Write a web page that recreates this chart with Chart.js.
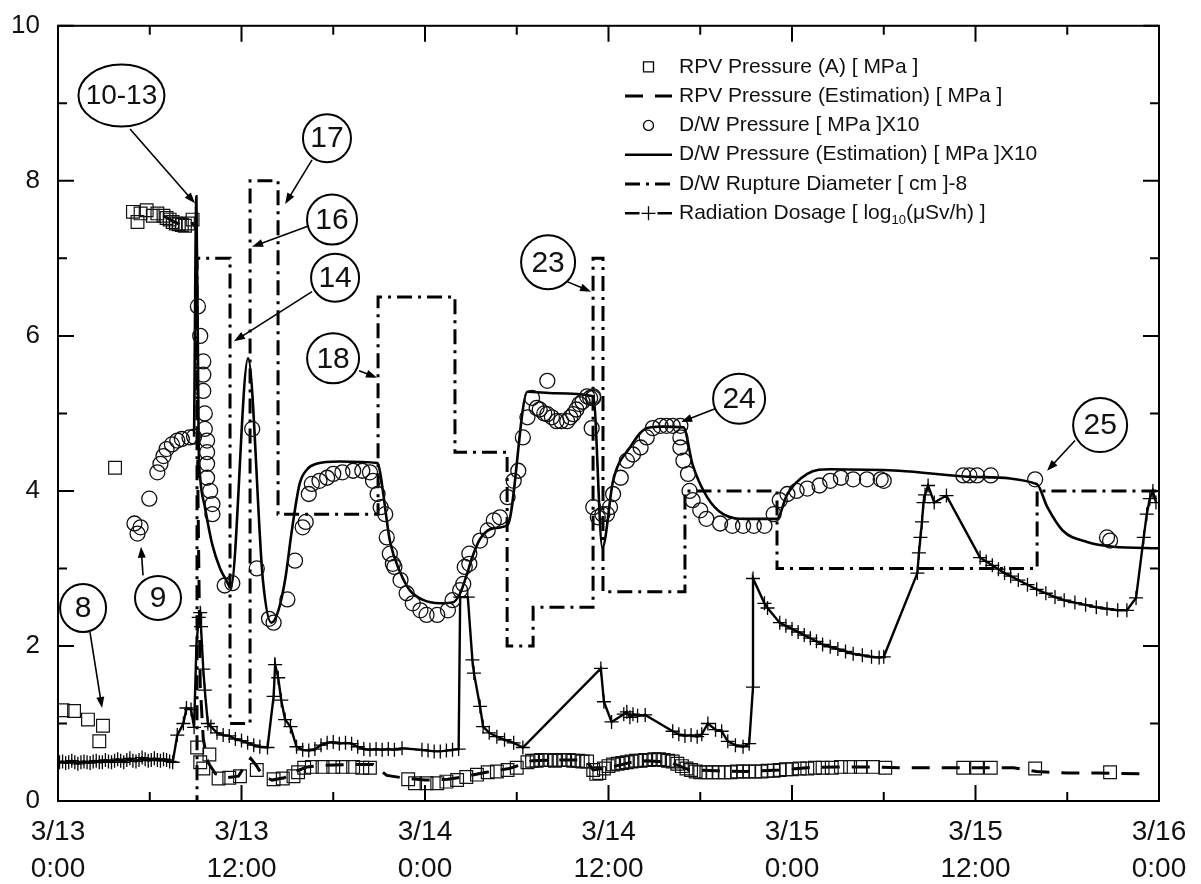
<!DOCTYPE html>
<html>
<head>
<meta charset="utf-8">
<title>RPV / D/W Pressure and Radiation</title>
<script src="https://cdn.jsdelivr.net/npm/chart.js@4.4.1/dist/chart.umd.min.js"></script>
<style>
  html, body { margin: 0; padding: 0; background: #fff; }
  #wrap { width: 1201px; height: 884px; }
</style>
</head>
<body>
<div id="wrap"><canvas id="chart" width="1201" height="884"></canvas></div>
<script>
// x is hours from 3/13 0:00
const xTickLabels = [['3/13', '0:00'], ['3/13', '12:00'], ['3/14', '0:00'], ['3/14', '12:00'],
                     ['3/15', '0:00'], ['3/15', '12:00'], ['3/16', '0:00']];

const seriesNames = [
  'RPV Pressure (A) [ MPa ]',
  'RPV Pressure (Estimation) [ MPa ]',
  'D/W Pressure [ MPa ]X10',
  'D/W Pressure (Estimation) [ MPa ]X10',
  'D/W Rupture Diameter [ cm ]-8',
  'Radiation Dosage [ log\u2081\u2080(\u03bcSv/h) ]'
];

// RPV pressure (A), squares
const rpvHours = [0.3, 1.05, 1.96, 2.94, 2.7, 3.73,
  4.9, 5.2, 5.4, 5.8, 6.2, 6.5, 6.9, 7.1, 7.3, 7.5, 7.7, 7.9, 8.1, 8.3, 8.5, 8.8,
  9.1, 9.3, 9.5, 9.9, 10.5, 11.2, 11.9, 13.0, 14.1, 14.7, 15.4, 15.7, 16.1, 16.6, 17.3, 18.0, 18.6, 19.3, 19.9, 20.4,
  22.9, 23.35, 24.1, 24.8, 25.4, 26.1, 26.7, 27.4, 28.1, 28.7, 29.4, 30.0,
  30.7, 31.0, 31.3, 31.6, 31.9, 32.2, 32.5, 32.8, 33.1, 33.4, 33.7, 34.0, 34.3, 34.6, 35.0, 35.2, 35.4,
  35.7, 36.0, 36.3, 36.6, 36.9, 37.2, 37.5, 37.8, 38.1, 38.4, 38.7, 39.0, 39.3, 39.6, 39.9, 40.2, 40.5, 40.8,
  41.1, 41.4, 41.7, 42.0, 42.4, 42.8, 43.2, 43.6, 44.0, 44.4, 44.8, 45.2, 45.6, 46.0, 46.4, 46.8, 47.2, 47.6,
  48.0, 48.5, 49.0, 49.5, 50.0, 50.6, 51.2, 51.8, 52.5, 53.3, 54.1,
  59.2, 60.1, 61.0, 63.9, 68.8];
const rpvValues = [1.17, 1.16, 1.05, 0.97, 0.77, 4.3,
  7.6, 7.47, 7.58, 7.62, 7.55, 7.58, 7.55, 7.52, 7.5, 7.47, 7.45, 7.44, 7.43, 7.42, 7.45, 7.5,
  0.69, 0.5, 0.42, 0.6, 0.29, 0.3, 0.32, 0.4, 0.28, 0.29, 0.32, 0.37, 0.43, 0.44, 0.44, 0.44, 0.44, 0.44, 0.43, 0.43,
  0.28, 0.23, 0.23, 0.23, 0.25, 0.27, 0.31, 0.34, 0.37, 0.38, 0.4, 0.43,
  0.5, 0.52, 0.52, 0.53, 0.53, 0.53, 0.52, 0.53, 0.53, 0.53, 0.52, 0.52, 0.51, 0.51, 0.4, 0.35, 0.36,
  0.42, 0.45, 0.47, 0.48, 0.49, 0.5, 0.51, 0.52, 0.52, 0.53, 0.53, 0.54, 0.54, 0.53, 0.52, 0.51, 0.48, 0.45,
  0.42, 0.4, 0.38, 0.37, 0.37, 0.37, 0.37, 0.37, 0.37, 0.38, 0.38, 0.38, 0.38, 0.38, 0.39, 0.39, 0.4, 0.41,
  0.41, 0.42, 0.42, 0.43, 0.43, 0.43, 0.44, 0.44, 0.44, 0.44, 0.43,
  0.43, 0.43, 0.43, 0.42, 0.37];

// RPV pressure estimation, dashed line
const rpvEstHours = [6.9, 7.5, 8.2, 8.8, 9.05, 9.15, 9.3, 9.5, 9.8, 10.3, 11.0, 11.8, 12.3, 12.6, 13.0, 13.4, 14.0,
  14.8, 15.5, 16.3, 17.5, 19.0, 20.6, 21.5, 22.5, 24.0, 25.5, 26.5, 28.0, 29.5, 30.5, 31.0, 33.0, 34.5, 35.0,
  36.0, 37.5, 38.5, 40.0, 41.3, 43.0, 45.0, 47.2, 49.0, 51.0, 53.0, 55.0, 60.0, 62.5, 64.0, 66.0, 68.0, 71.0];
const rpvEstValues = [7.55, 7.48, 7.42, 7.45, 7.4, 4.0, 1.5, 0.8, 0.5, 0.35, 0.3, 0.32, 0.48, 0.55, 0.45, 0.32, 0.27,
  0.3, 0.38, 0.44, 0.46, 0.47, 0.47, 0.33, 0.3, 0.27, 0.28, 0.31, 0.37, 0.42, 0.48, 0.52, 0.53, 0.53, 0.4,
  0.43, 0.5, 0.52, 0.5, 0.4, 0.39, 0.38, 0.4, 0.43, 0.44, 0.44, 0.43, 0.43, 0.43, 0.38, 0.36, 0.36, 0.35];

// D/W pressure x10, circles
const dwHours = [5.0, 5.4, 5.2, 5.97, 6.5, 6.7, 6.9, 7.1, 7.45, 7.8, 8.1, 8.6, 8.9,
  9.15, 9.3, 9.5, 9.5, 9.5, 9.6, 9.6, 9.75, 9.75, 9.75, 9.75, 9.95, 10.1, 10.1,
  10.9, 11.4, 12.7, 13.0, 13.8, 14.1, 15.0, 15.5, 16.0, 16.2, 16.4, 16.6, 17.1, 17.6, 18.0, 18.6, 19.3, 19.9,
  20.4, 20.6, 20.9, 21.1, 21.4, 21.5, 21.7, 21.9, 22.0, 22.4, 22.8, 23.2, 23.7, 24.1, 24.8, 25.5, 25.8,
  26.3, 26.5, 26.6, 26.9, 26.9, 27.6, 28.1, 28.5, 28.9, 29.4, 29.8, 30.1, 30.4, 30.7, 31.0, 31.3, 31.5,
  31.8, 32.0, 32.0, 32.3, 32.6, 32.9, 33.3, 33.5, 33.7, 33.9, 34.1, 34.3, 34.6, 34.8, 34.9, 35.0,
  35.0, 35.0, 35.3, 35.6, 35.9, 36.1, 36.3, 36.8, 37.2, 37.6, 38.1, 38.5, 38.9, 39.4, 39.8, 40.2, 40.7,
  40.7, 40.7, 40.9, 41.2, 41.3, 41.5, 42.0, 42.4, 43.3, 44.1, 44.8, 45.5, 46.2, 46.8, 47.2, 47.7, 48.3,
  49.0, 49.8, 50.5, 51.2, 52.0, 52.9, 53.8, 54.0, 59.2, 59.6, 60.1, 61.0, 63.9, 68.6, 68.8];
const dwValues = [3.58, 3.53, 3.45, 3.9, 4.24, 4.35, 4.45, 4.54, 4.6, 4.65, 4.67, 4.69, 4.7,
  6.38, 6.0, 5.67, 5.5, 5.29, 5.0, 4.8, 4.65, 4.5, 4.35, 4.17, 4.0, 3.83, 3.7,
  2.78, 2.81, 4.8, 3.0, 2.35, 2.3, 2.6, 3.1, 3.53, 3.6, 3.96, 4.09, 4.13, 4.17, 4.22, 4.24, 4.26, 4.26,
  4.24, 4.13, 3.96, 3.79, 3.7, 3.4, 3.19, 3.06, 3.02, 2.85, 2.68, 2.55, 2.46, 2.4, 2.4, 2.46, 2.59,
  2.72, 2.8, 3.02, 3.06, 3.19, 3.36, 3.49, 3.62, 3.66, 3.92, 4.13, 4.26, 4.69, 4.95, 5.2, 5.07, 5.05,
  5.0, 5.42, 4.99, 4.95, 4.9, 4.9, 4.9, 4.95, 4.99, 5.05, 5.12, 5.15, 5.22, 5.2, 4.81, 5.22,
  5.2, 3.79, 3.66, 3.7, 3.7, 3.79, 3.96, 4.17, 4.39, 4.47, 4.56, 4.69, 4.81, 4.84, 4.84, 4.84, 4.84,
  4.69, 4.56, 4.39, 4.22, 4.0, 3.88, 3.75, 3.64, 3.58, 3.55, 3.55, 3.55, 3.55, 3.7, 3.88, 3.96, 4.0,
  4.03, 4.07, 4.13, 4.17, 4.15, 4.15, 4.15, 4.13, 4.2, 4.2, 4.2, 4.2, 4.15, 3.4, 3.36];

// D/W pressure estimation x10, solid line
const dwEstHours = [8.9, 9.05, 9.2, 9.3, 9.6, 10.1, 10.6, 11.0, 11.3, 12.43, 13.4, 13.95, 14.4, 14.85, 15.3, 15.8,
  16.3, 16.9, 18.4, 20.9, 21.1, 21.3, 21.7, 22.4, 23.0, 23.8, 25.0, 25.8, 26.3, 26.7, 27.1, 27.6, 28.5, 29.4,
  30.7, 32.5, 35.0, 35.6, 36.3, 37.4, 38.5, 39.5, 40.9, 41.5, 42.45, 43.5, 45.0, 47.0, 47.7, 49.0, 50.5,
  55.0, 60.0, 64.0, 64.7, 65.7, 67.3, 69.0, 72.0];
const dwEstValues = [4.7, 7.8, 4.6, 4.17, 3.8, 3.3, 3.0, 2.85, 2.75, 5.71, 2.85, 2.3, 2.45, 2.85, 3.5, 4.09,
  4.28, 4.35, 4.38, 4.36, 4.2, 3.92, 3.36, 2.94, 2.72, 2.6, 2.55, 2.56, 2.68, 2.9, 3.15, 3.38, 3.52, 3.56,
  5.28, 5.26, 5.22, 3.27, 4.13, 4.56, 4.81, 4.83, 4.82, 4.34, 3.92, 3.7, 3.64, 3.64, 3.96, 4.22, 4.28,
  4.26, 4.18, 4.09, 3.79, 3.49, 3.34, 3.28, 3.26];

// D/W rupture diameter - 8, stepped: value holds from its hour until the next hour
const ruptureHours = [0, 9.09, 11.25, 12.56, 14.39, 20.93, 25.96, 29.37, 31.07, 34.99, 35.64, 41.0, 47.02, 64.03, 72];
const ruptureValues = [-8, 7.0, 1.0, 8.0, 3.7, 6.5, 4.5, 2.0, 2.5, 7.0, 2.7, 4.0, 3.0, 4.0, 4.0];

// Radiation dosage log10(uSv/h), crosses
const radHours = [0.1, 0.3, 0.5, 0.7, 0.9, 1.1, 1.3, 1.5, 1.7, 1.9, 2.1, 2.3, 2.5, 2.7, 2.9, 3.1, 3.3, 3.5, 3.7,
  3.9, 4.1, 4.3, 4.5, 4.7, 4.9, 5.1, 5.3, 5.5, 5.7, 5.9, 6.1, 6.3, 6.5, 6.7, 6.9, 7.1, 7.3, 7.5,
  7.8, 8.2, 8.4, 8.7, 8.9, 9.05, 9.2, 9.3, 9.35, 9.5, 9.6, 9.8, 10.0, 10.4, 10.8, 11.2, 11.6, 12.0, 12.4,
  12.8, 13.2, 13.7, 14.1, 14.2, 14.4, 14.6, 14.85, 15.2, 15.6, 16.0, 16.4, 16.8, 17.2, 17.6, 18.0, 18.4,
  18.8, 19.2, 19.6, 20.0, 20.4, 20.8, 21.2, 21.6, 22.0, 22.5, 23.8, 24.2, 24.6, 25.0, 25.4, 25.8, 26.2,
  26.3, 26.8, 27.1, 27.2, 27.6, 27.8, 28.2, 28.7, 29.2, 29.8, 30.4, 35.5, 35.7, 36.2, 37.0, 37.2, 37.4,
  37.6, 37.9, 38.4, 40.2, 40.6, 41.0, 41.4, 41.8, 42.1, 42.5, 43.0, 43.4, 43.8, 44.3, 44.8, 45.2, 45.45,
  45.45, 46.2, 46.4, 47.2, 47.6, 48.0, 48.4, 48.8, 49.2, 49.6, 50.0, 50.5, 51.0, 51.5, 52.0, 52.6, 53.2,
  53.7, 54.0, 56.2, 56.3, 56.4, 56.5, 56.6, 56.7, 56.9, 57.3, 58.1, 60.3, 60.7, 61.1, 61.5, 61.9, 62.3,
  62.8, 63.4, 64.0, 64.6, 65.2, 65.8, 66.5, 67.2, 67.9, 68.6, 69.3, 69.9, 70.5, 71.0, 71.2, 71.4, 71.6, 71.8];
const radValues = [0.5, 0.51, 0.49, 0.5, 0.52, 0.5, 0.48, 0.5, 0.51, 0.5, 0.49, 0.51, 0.52, 0.5, 0.5, 0.53, 0.51, 0.5, 0.52,
  0.54, 0.52, 0.5, 0.53, 0.55, 0.52, 0.51, 0.53, 0.56, 0.54, 0.52, 0.53, 0.55, 0.53, 0.52, 0.54, 0.53, 0.51, 0.5,
  0.85, 1.0, 1.2, 1.18, 0.95, 2.0, 2.37, 2.43, 2.25, 1.7, 1.43, 1.0, 0.96, 0.88, 0.85, 0.84, 0.8, 0.78, 0.75,
  0.72, 0.7, 0.69, 1.35, 1.76, 1.59, 1.3, 1.05, 0.96, 0.7, 0.66, 0.65, 0.67, 0.72, 0.75, 0.76, 0.74,
  0.75, 0.74, 0.7, 0.67, 0.66, 0.67, 0.66, 0.67, 0.66, 0.68, 0.66, 0.65, 0.64, 0.64, 0.65, 0.66, 0.67,
  2.63, 2.63, 1.82, 1.65, 1.22, 0.96, 0.88, 0.83, 0.79, 0.75, 0.69, 1.71, 1.28, 1.02, 1.12, 1.15, 1.08,
  1.12, 1.1, 1.11, 0.9, 0.86, 0.84, 0.85, 0.83, 0.86, 1.0, 0.92, 0.9, 0.77, 0.72, 0.7, 0.74, 1.47,
  2.87, 2.55, 2.49, 2.3, 2.26, 2.22, 2.18, 2.14, 2.1, 2.06, 2.02, 1.99, 1.96, 1.93, 1.9, 1.88, 1.86,
  1.85, 1.86, 2.94, 3.2, 3.4, 3.6, 3.85, 3.95, 4.07, 3.85, 3.94, 3.14, 3.09, 3.04, 2.99, 2.94, 2.9,
  2.85, 2.79, 2.73, 2.68, 2.63, 2.59, 2.56, 2.53, 2.5, 2.48, 2.46, 2.46, 2.62, 3.4, 3.7, 3.9, 4.0, 3.85];

// callouts, placed in data units (hours, value)
const callouts = [
  { text: '10-13', x: 4.15, y: 9.10, rx: 43, ry: 31, from: [4.71, 8.67], to: [8.96, 7.71] },
  { text: '17', x: 17.59, y: 8.55, rx: 24, ry: 24, from: [16.61, 8.27], to: [14.85, 7.70] },
  { text: '16', x: 17.92, y: 7.50, rx: 25, ry: 25, from: [16.29, 7.41], to: [12.69, 7.15] },
  { text: '14', x: 18.12, y: 6.75, rx: 24, ry: 24, from: [16.61, 6.57], to: [11.51, 5.93] },
  { text: '18', x: 17.99, y: 5.71, rx: 26, ry: 25, from: [19.69, 5.55], to: [20.86, 5.46] },
  { text: '23', x: 32.05, y: 6.95, rx: 27, ry: 27, from: [33.29, 6.70], to: [34.86, 6.57] },
  { text: '24', x: 44.54, y: 5.19, rx: 26, ry: 25, from: [42.97, 5.06], to: [40.75, 4.89] },
  { text: '25', x: 68.15, y: 4.85, rx: 27, ry: 27, from: [66.51, 4.65], to: [64.68, 4.26] },
  { text: '9', x: 6.54, y: 2.62, rx: 23, ry: 22, from: [5.56, 2.91], to: [5.43, 3.28] },
  { text: '8', x: 1.64, y: 2.49, rx: 23, ry: 24, from: [2.09, 2.18], to: [2.88, 1.20] }
];

const FONT = "'Liberation Sans', Arial, sans-serif";

function pts(xs, ys) {
  return xs.map((x, i) => ({ x: x, y: ys[i] }));
}

// box around the plot with inward ticks on all four sides
const frameTicks = {
  id: 'frameTicks',
  afterDatasetsDraw(chart) {
    const { ctx, chartArea: a, scales: { x, y } } = chart;
    ctx.save();
    ctx.strokeStyle = '#000';
    ctx.lineWidth = 2;
    ctx.strokeRect(a.left, a.top, a.right - a.left, a.bottom - a.top);
    ctx.beginPath();
    for (let h = x.min; h <= x.max; h += 6) {
      const px = x.getPixelForValue(h);
      const len = h % 12 === 0 ? 16 : 9;
      ctx.moveTo(px, a.bottom); ctx.lineTo(px, a.bottom - len);
      ctx.moveTo(px, a.top); ctx.lineTo(px, a.top + len);
    }
    for (let v = y.min; v <= y.max; v += 1) {
      const py = y.getPixelForValue(v);
      const len = v % 2 === 0 ? 16 : 9;
      ctx.moveTo(a.left, py); ctx.lineTo(a.left + len, py);
      ctx.moveTo(a.right, py); ctx.lineTo(a.right - len, py);
    }
    ctx.stroke();
    ctx.restore();
  }
};

function drawArrow(ctx, x1, y1, x2, y2) {
  const ang = Math.atan2(y2 - y1, x2 - x1);
  const hl = 11, hw = 4;
  ctx.beginPath();
  ctx.moveTo(x1, y1);
  ctx.lineTo(x2 - Math.cos(ang) * hl * 0.8, y2 - Math.sin(ang) * hl * 0.8);
  ctx.stroke();
  ctx.beginPath();
  ctx.moveTo(x2, y2);
  ctx.lineTo(x2 - Math.cos(ang) * hl + Math.sin(ang) * hw, y2 - Math.sin(ang) * hl - Math.cos(ang) * hw);
  ctx.lineTo(x2 - Math.cos(ang) * hl - Math.sin(ang) * hw, y2 - Math.sin(ang) * hl + Math.cos(ang) * hw);
  ctx.closePath();
  ctx.fill();
}

const calloutPlugin = {
  id: 'callouts',
  afterDatasetsDraw(chart) {
    const { ctx, scales: { x, y } } = chart;
    ctx.save();
    ctx.strokeStyle = '#000';
    ctx.fillStyle = '#000';
    ctx.lineWidth = 1.6;
    callouts.forEach(c => {
      drawArrow(ctx, x.getPixelForValue(c.from[0]), y.getPixelForValue(c.from[1]),
                x.getPixelForValue(c.to[0]), y.getPixelForValue(c.to[1]));
      const cx = x.getPixelForValue(c.x), cy = y.getPixelForValue(c.y);
      ctx.beginPath();
      ctx.ellipse(cx, cy, c.rx, c.ry, 0, 0, Math.PI * 2);
      ctx.fillStyle = '#fff';
      ctx.fill();
      ctx.lineWidth = 2;
      ctx.stroke();
      ctx.lineWidth = 1.6;
      ctx.fillStyle = '#111';
      ctx.font = (c.text.length > 3 ? 28 : 30) + 'px ' + FONT;
      ctx.textAlign = 'center';
      ctx.textBaseline = 'middle';
      ctx.fillText(c.text, cx, cy + 1);
      ctx.fillStyle = '#000';
    });
    ctx.restore();
  }
};

// legend in the upper right of the plot
const legendPlugin = {
  id: 'legendBox',
  afterDraw(chart) {
    const { ctx, chartArea: a } = chart;
    const textX = a.left + 621, symL = a.left + 567, symR = a.left + 614;
    const symC = (symL + symR) / 2;
    ctx.save();
    chart.data.datasets.forEach((ds, i) => {
      const cy = a.top + 41 + i * 29.3;
      ctx.strokeStyle = '#000';
      ctx.fillStyle = '#000';
      if (ds.showLine) {
        ctx.lineWidth = ds.borderWidth;
        ctx.setLineDash(ds.borderDash || []);
        ctx.beginPath();
        if (ds.pointStyle === 'cross') {
          ctx.moveTo(symL, cy); ctx.lineTo(symC - 9, cy);
          ctx.moveTo(symC + 9, cy); ctx.lineTo(symR, cy);
        } else {
          ctx.moveTo(symL, cy); ctx.lineTo(symR, cy);
        }
        ctx.stroke();
        ctx.setLineDash([]);
      }
      if (ds.pointRadius > 0) {
        ctx.lineWidth = 1.3;
        ctx.beginPath();
        if (ds.pointStyle === 'rect') {
          ctx.rect(symC - 5, cy - 5, 10, 10);
        } else if (ds.pointStyle === 'circle') {
          ctx.arc(symC, cy, 5, 0, Math.PI * 2);
        } else if (ds.pointStyle === 'cross') {
          ctx.moveTo(symC - 7, cy); ctx.lineTo(symC + 7, cy);
          ctx.moveTo(symC, cy - 7); ctx.lineTo(symC, cy + 7);
        }
        ctx.stroke();
      }
      // label, with subscript for log10
      ctx.fillStyle = '#111';
      ctx.textBaseline = 'middle';
      ctx.textAlign = 'left';
      const parts = ds.label.split('\u2081\u2080');
      ctx.font = '21px ' + FONT;
      ctx.fillText(parts[0], textX, cy);
      if (parts.length > 1) {
        let px = textX + ctx.measureText(parts[0]).width;
        ctx.font = '13px ' + FONT;
        ctx.fillText('10', px, cy + 7);
        px += ctx.measureText('10').width;
        ctx.font = '21px ' + FONT;
        ctx.fillText(parts[1], px, cy);
      }
    });
    ctx.restore();
  }
};

const ctx = document.getElementById('chart').getContext('2d');
const chart = new Chart(ctx, {
  type: 'scatter',
  data: {
    datasets: [
      {
        label: seriesNames[0],
        data: pts(rpvHours, rpvValues),
        showLine: false,
        pointStyle: 'rect',
        pointRadius: 9,
        pointBorderWidth: 1.2,
        borderColor: '#111',
        backgroundColor: 'rgba(0,0,0,0)'
      },
      {
        label: seriesNames[1],
        data: pts(rpvEstHours, rpvEstValues),
        showLine: true,
        borderColor: '#000',
        borderWidth: 3,
        borderDash: [18, 12],
        pointRadius: 0
      },
      {
        label: seriesNames[2],
        data: pts(dwHours, dwValues),
        showLine: false,
        pointStyle: 'circle',
        pointRadius: 7.5,
        pointBorderWidth: 1.3,
        borderColor: '#111',
        backgroundColor: 'rgba(0,0,0,0)'
      },
      {
        label: seriesNames[3],
        data: pts(dwEstHours, dwEstValues),
        showLine: true,
        borderColor: '#000',
        borderWidth: 2.6,
        cubicInterpolationMode: 'monotone',
        pointRadius: 0
      },
      {
        label: seriesNames[4],
        data: pts(ruptureHours, ruptureValues),
        showLine: true,
        stepped: true,
        borderColor: '#000',
        borderWidth: 3,
        borderDash: [15, 6, 3, 6],
        pointRadius: 0
      },
      {
        label: seriesNames[5],
        data: pts(radHours, radValues),
        showLine: true,
        borderColor: '#000',
        borderWidth: 2.4,
        pointStyle: 'cross',
        pointRadius: 7,
        pointBorderWidth: 1.3,
        backgroundColor: 'rgba(0,0,0,0)'
      }
    ]
  },
  options: {
    responsive: false,
    animation: false,
    layout: { padding: { top: 24, right: 42, bottom: 0, left: 0 } },
    plugins: {
      legend: { display: false },
      tooltip: { enabled: false }
    },
    scales: {
      x: {
        type: 'linear',
        min: 0,
        max: 72,
        grid: { display: false, drawTicks: false },
        border: { display: false },
        ticks: {
          stepSize: 12,
          autoSkip: false,
          maxRotation: 0,
          padding: 13,
          color: '#111',
          font: { family: FONT, size: 28, lineHeight: 1.32 },
          callback: v => xTickLabels[Math.round(v / 12)]
        },
        afterFit: s => { s.height = 83; }
      },
      y: {
        min: 0,
        max: 10,
        grid: { display: false, drawTicks: false },
        border: { display: false },
        ticks: {
          stepSize: 2,
          padding: 18,
          color: '#111',
          font: { family: FONT, size: 26, lineHeight: 0.6 }
        },
        afterFit: s => { s.width = 58; }
      }
    }
  },
  plugins: [frameTicks, calloutPlugin, legendPlugin]
});
</script>
</body>
</html>
